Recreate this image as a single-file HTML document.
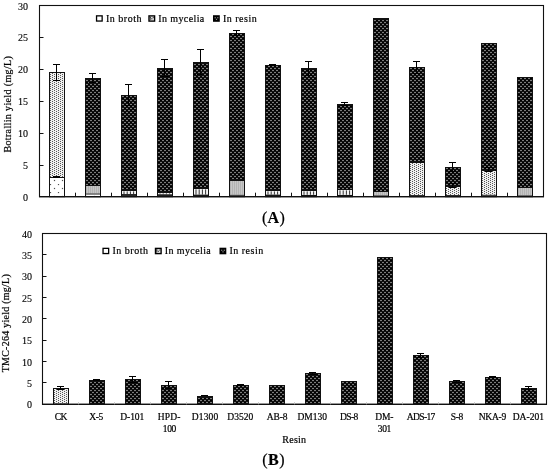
<!DOCTYPE html>
<html lang="en"><head><meta charset="utf-8"><title>Botrallin and TMC-264 yield</title>
<style>
html,body{margin:0;padding:0;background:#fff;}
body{width:550px;height:471px;overflow:hidden;}
svg{display:block;}
text{font-family:'Liberation Serif', serif;fill:#000;stroke:#000;stroke-width:0.2px;}
.tk{font-size:10px;stroke-width:0.12px;}
.lg{font-size:10px;letter-spacing:0.5px;}
.ax{font-size:10px;letter-spacing:0.25px;}
.cat{font-size:9.5px;}
.pl{font-size:16px;letter-spacing:0.4px;}
</style></head><body>
<svg width="550" height="471" viewBox="0 0 550 471">
<defs>
<pattern id="pr" width="4" height="4" patternUnits="userSpaceOnUse" x="0" y="0">
<rect width="4" height="4" fill="#000"/>
<rect x="2" y="-1" width="2" height="3" fill="#101010"/>
<rect x="2" y="3" width="2" height="1" fill="#101010"/>
<rect x="0" y="1" width="2" height="3" fill="#101010"/>
<rect x="2" y="0" width="2" height="1" fill="#7c7c7c"/>
<rect x="0" y="2" width="2" height="1" fill="#7c7c7c"/>
</pattern>
<pattern id="pr2" width="4" height="4" patternUnits="userSpaceOnUse" x="0" y="2">
<rect width="4" height="4" fill="#000"/>
<rect x="2" y="-1" width="2" height="3" fill="#101010"/>
<rect x="2" y="3" width="2" height="1" fill="#101010"/>
<rect x="0" y="1" width="2" height="3" fill="#101010"/>
<rect x="2" y="0" width="2" height="1" fill="#7c7c7c"/>
<rect x="0" y="2" width="2" height="1" fill="#7c7c7c"/>
</pattern>
<pattern id="pm" width="4" height="2" patternUnits="userSpaceOnUse">
<rect width="4" height="2" fill="#f0f0f0"/>
<rect x="0" y="1" width="1" height="1" fill="#585858"/>
<rect x="2" y="0" width="1" height="1" fill="#585858"/>
</pattern>
<pattern id="pm2" width="4" height="2" patternUnits="userSpaceOnUse">
<rect width="4" height="2" fill="#c6c6c6"/>
<rect x="0" y="0" width="1" height="2" fill="#b2b2b2"/>
<rect x="2" y="0" width="1" height="2" fill="#b2b2b2"/>
</pattern>
<pattern id="pb" width="8" height="8" patternUnits="userSpaceOnUse">
<rect width="8" height="8" fill="#fff"/>
<rect x="1.9" y="-0.1" width="1.2" height="1.2" fill="#505050"/>
<rect x="5.9" y="3.9" width="1.2" height="1.2" fill="#505050"/>
</pattern>
</defs>
<rect width="550" height="471" fill="#fff"/>

<rect x="49.00" y="72.00" width="16.00" height="105.00" fill="url(#pm)"/>
<rect x="49.00" y="177.00" width="16.00" height="19.70" fill="url(#pb)"/>
<rect x="49.50" y="72.50" width="15.00" height="124.20" fill="none" stroke="#111" stroke-width="1"/>
<line x1="49.00" x2="65.00" y1="177.50" y2="177.50" stroke="#111" stroke-width="1"/>
<path d="M56.50 64.50V80.50M53.00 64.50H60.00M53.00 80.50H60.00" stroke="#000" stroke-width="1" fill="none"/>
<path d="M56.50 176.50V177.50M53.00 176.50H60.00M53.00 177.50H60.00" stroke="#000" stroke-width="1" fill="none"/>
<rect x="85.00" y="78.00" width="16.00" height="107.00" fill="url(#pr)"/>
<rect x="85.00" y="185.00" width="16.00" height="8.51" fill="url(#pm2)"/>
<rect x="85.00" y="193.51" width="16.00" height="3.19" fill="url(#pb)"/>
<rect x="85.50" y="78.50" width="15.00" height="118.20" fill="none" stroke="#111" stroke-width="1"/>
<line x1="85.00" x2="101.00" y1="185.50" y2="185.50" stroke="#111" stroke-width="1"/>
<line x1="85.00" x2="101.00" y1="194.01" y2="194.01" stroke="#111" stroke-width="1"/>
<path d="M92.50 73.50V82.50M89.00 73.50H96.00M89.00 82.50H96.00" stroke="#000" stroke-width="1" fill="none"/>
<rect x="121.00" y="95.00" width="16.00" height="95.00" fill="url(#pr)"/>
<rect x="121.00" y="190.00" width="16.00" height="4.28" fill="#f4f4f4"/>
<line x1="124.00" x2="124.00" y1="191.40" y2="194.08" stroke="#333" stroke-width="1"/>
<line x1="127.20" x2="127.20" y1="191.40" y2="194.08" stroke="#333" stroke-width="1"/>
<line x1="130.40" x2="130.40" y1="191.40" y2="194.08" stroke="#333" stroke-width="1"/>
<line x1="133.60" x2="133.60" y1="191.40" y2="194.08" stroke="#333" stroke-width="1"/>
<rect x="121.00" y="194.28" width="16.00" height="2.42" fill="#333"/>
<rect x="121.50" y="95.50" width="15.00" height="101.20" fill="none" stroke="#111" stroke-width="1"/>
<line x1="121.00" x2="137.00" y1="190.50" y2="190.50" stroke="#111" stroke-width="1"/>
<line x1="121.00" x2="137.00" y1="194.78" y2="194.78" stroke="#111" stroke-width="1"/>
<path d="M128.50 84.50V105.50M125.00 84.50H132.00M125.00 105.50H132.00" stroke="#000" stroke-width="1" fill="none"/>
<rect x="157.00" y="68.00" width="16.00" height="124.00" fill="url(#pr)"/>
<rect x="157.00" y="192.00" width="16.00" height="2.53" fill="#f4f4f4"/>
<line x1="160.00" x2="160.00" y1="193.40" y2="194.33" stroke="#333" stroke-width="1"/>
<line x1="163.20" x2="163.20" y1="193.40" y2="194.33" stroke="#333" stroke-width="1"/>
<line x1="166.40" x2="166.40" y1="193.40" y2="194.33" stroke="#333" stroke-width="1"/>
<line x1="169.60" x2="169.60" y1="193.40" y2="194.33" stroke="#333" stroke-width="1"/>
<rect x="157.00" y="194.53" width="16.00" height="2.17" fill="#333"/>
<rect x="157.50" y="68.50" width="15.00" height="128.20" fill="none" stroke="#111" stroke-width="1"/>
<line x1="157.00" x2="173.00" y1="192.50" y2="192.50" stroke="#111" stroke-width="1"/>
<line x1="157.00" x2="173.00" y1="195.03" y2="195.03" stroke="#111" stroke-width="1"/>
<path d="M164.50 59.50V76.50M161.00 59.50H168.00M161.00 76.50H168.00" stroke="#000" stroke-width="1" fill="none"/>
<rect x="193.00" y="62.00" width="16.00" height="126.00" fill="url(#pr)"/>
<rect x="193.00" y="188.00" width="16.00" height="6.79" fill="#f4f4f4"/>
<line x1="196.00" x2="196.00" y1="189.40" y2="194.59" stroke="#333" stroke-width="1"/>
<line x1="199.20" x2="199.20" y1="189.40" y2="194.59" stroke="#333" stroke-width="1"/>
<line x1="202.40" x2="202.40" y1="189.40" y2="194.59" stroke="#333" stroke-width="1"/>
<line x1="205.60" x2="205.60" y1="189.40" y2="194.59" stroke="#333" stroke-width="1"/>
<rect x="193.00" y="194.79" width="16.00" height="1.91" fill="#333"/>
<rect x="193.50" y="62.50" width="15.00" height="134.20" fill="none" stroke="#111" stroke-width="1"/>
<line x1="193.00" x2="209.00" y1="188.50" y2="188.50" stroke="#111" stroke-width="1"/>
<line x1="193.00" x2="209.00" y1="195.29" y2="195.29" stroke="#111" stroke-width="1"/>
<path d="M200.50 49.50V74.50M197.00 49.50H204.00M197.00 74.50H204.00" stroke="#000" stroke-width="1" fill="none"/>
<rect x="229.00" y="33.00" width="16.00" height="147.00" fill="url(#pr)"/>
<rect x="229.00" y="180.00" width="16.00" height="14.79" fill="url(#pm2)"/>
<rect x="229.00" y="194.79" width="16.00" height="1.91" fill="url(#pb)"/>
<rect x="229.50" y="33.50" width="15.00" height="163.20" fill="none" stroke="#111" stroke-width="1"/>
<line x1="229.00" x2="245.00" y1="180.50" y2="180.50" stroke="#111" stroke-width="1"/>
<line x1="229.00" x2="245.00" y1="195.29" y2="195.29" stroke="#111" stroke-width="1"/>
<path d="M236.50 30.50V35.50M233.00 30.50H240.00M233.00 35.50H240.00" stroke="#000" stroke-width="1" fill="none"/>
<rect x="265.00" y="65.00" width="16.00" height="125.00" fill="url(#pr)"/>
<rect x="265.00" y="190.00" width="16.00" height="4.79" fill="#f4f4f4"/>
<line x1="268.00" x2="268.00" y1="191.40" y2="194.59" stroke="#333" stroke-width="1"/>
<line x1="271.20" x2="271.20" y1="191.40" y2="194.59" stroke="#333" stroke-width="1"/>
<line x1="274.40" x2="274.40" y1="191.40" y2="194.59" stroke="#333" stroke-width="1"/>
<line x1="277.60" x2="277.60" y1="191.40" y2="194.59" stroke="#333" stroke-width="1"/>
<rect x="265.00" y="194.79" width="16.00" height="1.91" fill="#333"/>
<rect x="265.50" y="65.50" width="15.00" height="131.20" fill="none" stroke="#111" stroke-width="1"/>
<line x1="265.00" x2="281.00" y1="190.50" y2="190.50" stroke="#111" stroke-width="1"/>
<line x1="265.00" x2="281.00" y1="195.29" y2="195.29" stroke="#111" stroke-width="1"/>
<path d="M272.50 64.50V65.50M269.00 64.50H276.00M269.00 65.50H276.00" stroke="#000" stroke-width="1" fill="none"/>
<rect x="301.00" y="68.00" width="16.00" height="122.00" fill="url(#pr)"/>
<rect x="301.00" y="190.00" width="16.00" height="4.98" fill="#f4f4f4"/>
<line x1="304.00" x2="304.00" y1="191.40" y2="194.78" stroke="#333" stroke-width="1"/>
<line x1="307.20" x2="307.20" y1="191.40" y2="194.78" stroke="#333" stroke-width="1"/>
<line x1="310.40" x2="310.40" y1="191.40" y2="194.78" stroke="#333" stroke-width="1"/>
<line x1="313.60" x2="313.60" y1="191.40" y2="194.78" stroke="#333" stroke-width="1"/>
<rect x="301.00" y="194.98" width="16.00" height="1.72" fill="#333"/>
<rect x="301.50" y="68.50" width="15.00" height="128.20" fill="none" stroke="#111" stroke-width="1"/>
<line x1="301.00" x2="317.00" y1="190.50" y2="190.50" stroke="#111" stroke-width="1"/>
<line x1="301.00" x2="317.00" y1="195.48" y2="195.48" stroke="#111" stroke-width="1"/>
<path d="M308.50 61.50V75.50M305.00 61.50H312.00M305.00 75.50H312.00" stroke="#000" stroke-width="1" fill="none"/>
<rect x="337.00" y="104.00" width="16.00" height="85.00" fill="url(#pr)"/>
<rect x="337.00" y="189.00" width="16.00" height="5.98" fill="#f4f4f4"/>
<line x1="340.00" x2="340.00" y1="190.40" y2="194.78" stroke="#333" stroke-width="1"/>
<line x1="343.20" x2="343.20" y1="190.40" y2="194.78" stroke="#333" stroke-width="1"/>
<line x1="346.40" x2="346.40" y1="190.40" y2="194.78" stroke="#333" stroke-width="1"/>
<line x1="349.60" x2="349.60" y1="190.40" y2="194.78" stroke="#333" stroke-width="1"/>
<rect x="337.00" y="194.98" width="16.00" height="1.72" fill="#333"/>
<rect x="337.50" y="104.50" width="15.00" height="92.20" fill="none" stroke="#111" stroke-width="1"/>
<line x1="337.00" x2="353.00" y1="189.50" y2="189.50" stroke="#111" stroke-width="1"/>
<line x1="337.00" x2="353.00" y1="195.48" y2="195.48" stroke="#111" stroke-width="1"/>
<path d="M344.50 102.50V105.50M341.00 102.50H348.00M341.00 105.50H348.00" stroke="#000" stroke-width="1" fill="none"/>
<rect x="373.00" y="18.00" width="16.00" height="173.00" fill="url(#pr)"/>
<rect x="373.00" y="191.00" width="16.00" height="4.43" fill="url(#pm2)"/>
<rect x="373.00" y="195.43" width="16.00" height="1.27" fill="url(#pb)"/>
<rect x="373.50" y="18.50" width="15.00" height="178.20" fill="none" stroke="#111" stroke-width="1"/>
<line x1="373.00" x2="389.00" y1="191.50" y2="191.50" stroke="#111" stroke-width="1"/>
<line x1="373.00" x2="389.00" y1="195.93" y2="195.93" stroke="#111" stroke-width="1"/>
<rect x="409.00" y="67.00" width="16.00" height="95.00" fill="url(#pr)"/>
<rect x="409.00" y="162.00" width="16.00" height="33.11" fill="url(#pm)"/>
<rect x="409.00" y="195.11" width="16.00" height="1.59" fill="url(#pb)"/>
<rect x="409.50" y="67.50" width="15.00" height="129.20" fill="none" stroke="#111" stroke-width="1"/>
<line x1="409.00" x2="425.00" y1="162.50" y2="162.50" stroke="#111" stroke-width="1"/>
<line x1="409.00" x2="425.00" y1="195.61" y2="195.61" stroke="#111" stroke-width="1"/>
<path d="M416.50 61.50V73.50M413.00 61.50H420.00M413.00 73.50H420.00" stroke="#000" stroke-width="1" fill="none"/>
<rect x="445.00" y="167.00" width="16.00" height="19.00" fill="url(#pr)"/>
<rect x="445.00" y="186.00" width="16.00" height="9.11" fill="url(#pm)"/>
<rect x="445.00" y="195.11" width="16.00" height="1.59" fill="url(#pb)"/>
<rect x="445.50" y="167.50" width="15.00" height="29.20" fill="none" stroke="#111" stroke-width="1"/>
<line x1="445.00" x2="461.00" y1="186.50" y2="186.50" stroke="#111" stroke-width="1"/>
<line x1="445.00" x2="461.00" y1="195.61" y2="195.61" stroke="#111" stroke-width="1"/>
<path d="M452.50 162.50V171.50M449.00 162.50H456.00M449.00 171.50H456.00" stroke="#000" stroke-width="1" fill="none"/>
<path d="M452.50 183.50V187.50M449.00 183.50H456.00M449.00 187.50H456.00" stroke="#000" stroke-width="1" fill="none"/>
<rect x="481.00" y="43.00" width="16.00" height="127.00" fill="url(#pr)"/>
<rect x="481.00" y="170.00" width="16.00" height="24.79" fill="url(#pm)"/>
<rect x="481.00" y="194.79" width="16.00" height="1.91" fill="url(#pb)"/>
<rect x="481.50" y="43.50" width="15.00" height="153.20" fill="none" stroke="#111" stroke-width="1"/>
<line x1="481.00" x2="497.00" y1="170.50" y2="170.50" stroke="#111" stroke-width="1"/>
<line x1="481.00" x2="497.00" y1="195.29" y2="195.29" stroke="#111" stroke-width="1"/>
<path d="M488.50 167.50V171.50M485.00 167.50H492.00M485.00 171.50H492.00" stroke="#000" stroke-width="1" fill="none"/>
<rect x="517.00" y="77.00" width="16.00" height="110.00" fill="url(#pr)"/>
<rect x="517.00" y="187.00" width="16.00" height="8.43" fill="url(#pm2)"/>
<rect x="517.00" y="195.43" width="16.00" height="1.27" fill="url(#pb)"/>
<rect x="517.50" y="77.50" width="15.00" height="119.20" fill="none" stroke="#111" stroke-width="1"/>
<line x1="517.00" x2="533.00" y1="187.50" y2="187.50" stroke="#111" stroke-width="1"/>
<line x1="517.00" x2="533.00" y1="195.93" y2="195.93" stroke="#111" stroke-width="1"/>
<rect x="39.50" y="5.50" width="504.00" height="191.20" fill="none" stroke="#111" stroke-width="1.1"/>
<line x1="39.00" x2="544.00" y1="196.70" y2="196.70" stroke="#111" stroke-width="1.3"/>
<text class="tk" x="27.90" y="200.70" text-anchor="end">0</text>
<line x1="39.50" x2="43.50" y1="165.50" y2="165.50" stroke="#111" stroke-width="1"/>
<text class="tk" x="27.90" y="168.83" text-anchor="end">5</text>
<line x1="39.50" x2="43.50" y1="133.50" y2="133.50" stroke="#111" stroke-width="1"/>
<text class="tk" x="27.90" y="136.97" text-anchor="end">10</text>
<line x1="39.50" x2="43.50" y1="101.50" y2="101.50" stroke="#111" stroke-width="1"/>
<text class="tk" x="27.90" y="105.10" text-anchor="end">15</text>
<line x1="39.50" x2="43.50" y1="69.50" y2="69.50" stroke="#111" stroke-width="1"/>
<text class="tk" x="27.90" y="73.23" text-anchor="end">20</text>
<line x1="39.50" x2="43.50" y1="37.50" y2="37.50" stroke="#111" stroke-width="1"/>
<text class="tk" x="27.90" y="41.37" text-anchor="end">25</text>
<text class="tk" x="27.90" y="9.50" text-anchor="end">30</text>
<line x1="75.50" x2="75.50" y1="192.70" y2="196.70" stroke="#111" stroke-width="1"/>
<line x1="111.50" x2="111.50" y1="192.70" y2="196.70" stroke="#111" stroke-width="1"/>
<line x1="147.50" x2="147.50" y1="192.70" y2="196.70" stroke="#111" stroke-width="1"/>
<line x1="183.50" x2="183.50" y1="192.70" y2="196.70" stroke="#111" stroke-width="1"/>
<line x1="219.50" x2="219.50" y1="192.70" y2="196.70" stroke="#111" stroke-width="1"/>
<line x1="255.50" x2="255.50" y1="192.70" y2="196.70" stroke="#111" stroke-width="1"/>
<line x1="291.50" x2="291.50" y1="192.70" y2="196.70" stroke="#111" stroke-width="1"/>
<line x1="327.50" x2="327.50" y1="192.70" y2="196.70" stroke="#111" stroke-width="1"/>
<line x1="363.50" x2="363.50" y1="192.70" y2="196.70" stroke="#111" stroke-width="1"/>
<line x1="399.50" x2="399.50" y1="192.70" y2="196.70" stroke="#111" stroke-width="1"/>
<line x1="435.50" x2="435.50" y1="192.70" y2="196.70" stroke="#111" stroke-width="1"/>
<line x1="471.50" x2="471.50" y1="192.70" y2="196.70" stroke="#111" stroke-width="1"/>
<line x1="507.50" x2="507.50" y1="192.70" y2="196.70" stroke="#111" stroke-width="1"/>
<rect x="53.00" y="388.00" width="16.00" height="15.66" fill="url(#pm)"/>
<rect x="53.00" y="403.66" width="16.00" height="0.64" fill="url(#pb)"/>
<rect x="53.50" y="388.50" width="15.00" height="15.80" fill="none" stroke="#111" stroke-width="1"/>
<line x1="53.00" x2="69.00" y1="404.16" y2="404.16" stroke="#111" stroke-width="1"/>
<path d="M60.50 386.50V389.50M57.00 386.50H64.00M57.00 389.50H64.00" stroke="#000" stroke-width="1" fill="none"/>
<rect x="89.00" y="380.00" width="16.00" height="24.00" fill="url(#pr2)"/>
<rect x="89.50" y="380.50" width="15.00" height="23.80" fill="none" stroke="#111" stroke-width="1"/>
<path d="M96.50 379.50V380.50M93.00 379.50H100.00M93.00 380.50H100.00" stroke="#000" stroke-width="1" fill="none"/>
<rect x="125.00" y="379.00" width="16.00" height="25.00" fill="url(#pr2)"/>
<rect x="125.50" y="379.50" width="15.00" height="24.80" fill="none" stroke="#111" stroke-width="1"/>
<path d="M132.50 376.50V382.50M129.00 376.50H136.00M129.00 382.50H136.00" stroke="#000" stroke-width="1" fill="none"/>
<rect x="161.00" y="385.00" width="16.00" height="19.00" fill="url(#pr2)"/>
<rect x="161.50" y="385.50" width="15.00" height="18.80" fill="none" stroke="#111" stroke-width="1"/>
<path d="M168.50 381.50V388.50M165.00 381.50H172.00M165.00 388.50H172.00" stroke="#000" stroke-width="1" fill="none"/>
<rect x="197.00" y="396.00" width="16.00" height="8.00" fill="url(#pr2)"/>
<rect x="197.50" y="396.50" width="15.00" height="7.80" fill="none" stroke="#111" stroke-width="1"/>
<path d="M204.50 395.50V395.50M201.00 395.50H208.00M201.00 395.50H208.00" stroke="#000" stroke-width="1" fill="none"/>
<rect x="233.00" y="385.00" width="16.00" height="19.00" fill="url(#pr2)"/>
<rect x="233.50" y="385.50" width="15.00" height="18.80" fill="none" stroke="#111" stroke-width="1"/>
<path d="M240.50 384.50V385.50M237.00 384.50H244.00M237.00 385.50H244.00" stroke="#000" stroke-width="1" fill="none"/>
<rect x="269.00" y="385.00" width="16.00" height="19.00" fill="url(#pr2)"/>
<rect x="269.50" y="385.50" width="15.00" height="18.80" fill="none" stroke="#111" stroke-width="1"/>
<rect x="305.00" y="373.00" width="16.00" height="31.00" fill="url(#pr2)"/>
<rect x="305.50" y="373.50" width="15.00" height="30.80" fill="none" stroke="#111" stroke-width="1"/>
<path d="M312.50 372.50V374.50M309.00 372.50H316.00M309.00 374.50H316.00" stroke="#000" stroke-width="1" fill="none"/>
<rect x="341.00" y="381.00" width="16.00" height="23.00" fill="url(#pr2)"/>
<rect x="341.50" y="381.50" width="15.00" height="22.80" fill="none" stroke="#111" stroke-width="1"/>
<rect x="377.00" y="257.00" width="16.00" height="147.00" fill="url(#pr2)"/>
<rect x="377.50" y="257.50" width="15.00" height="146.80" fill="none" stroke="#111" stroke-width="1"/>
<rect x="413.00" y="355.00" width="16.00" height="49.00" fill="url(#pr2)"/>
<rect x="413.50" y="355.50" width="15.00" height="48.80" fill="none" stroke="#111" stroke-width="1"/>
<path d="M420.50 353.50V357.50M417.00 353.50H424.00M417.00 357.50H424.00" stroke="#000" stroke-width="1" fill="none"/>
<rect x="449.00" y="381.00" width="16.00" height="23.00" fill="url(#pr2)"/>
<rect x="449.50" y="381.50" width="15.00" height="22.80" fill="none" stroke="#111" stroke-width="1"/>
<path d="M456.50 380.50V382.50M453.00 380.50H460.00M453.00 382.50H460.00" stroke="#000" stroke-width="1" fill="none"/>
<rect x="485.00" y="377.00" width="16.00" height="27.00" fill="url(#pr2)"/>
<rect x="485.50" y="377.50" width="15.00" height="26.80" fill="none" stroke="#111" stroke-width="1"/>
<path d="M492.50 376.50V377.50M489.00 376.50H496.00M489.00 377.50H496.00" stroke="#000" stroke-width="1" fill="none"/>
<rect x="521.00" y="388.00" width="16.00" height="16.00" fill="url(#pr2)"/>
<rect x="521.50" y="388.50" width="15.00" height="15.80" fill="none" stroke="#111" stroke-width="1"/>
<path d="M528.50 386.50V389.50M525.00 386.50H532.00M525.00 389.50H532.00" stroke="#000" stroke-width="1" fill="none"/>
<rect x="42.50" y="233.50" width="504.00" height="170.80" fill="none" stroke="#111" stroke-width="1.1"/>
<line x1="42.00" x2="547.00" y1="404.30" y2="404.30" stroke="#111" stroke-width="1.3"/>
<text class="tk" x="32.00" y="408.30" text-anchor="end">0</text>
<line x1="42.50" x2="46.50" y1="382.50" y2="382.50" stroke="#111" stroke-width="1"/>
<text class="tk" x="32.00" y="386.95" text-anchor="end">5</text>
<line x1="42.50" x2="46.50" y1="361.50" y2="361.50" stroke="#111" stroke-width="1"/>
<text class="tk" x="32.00" y="365.60" text-anchor="end">10</text>
<line x1="42.50" x2="46.50" y1="340.50" y2="340.50" stroke="#111" stroke-width="1"/>
<text class="tk" x="32.00" y="344.25" text-anchor="end">15</text>
<line x1="42.50" x2="46.50" y1="318.50" y2="318.50" stroke="#111" stroke-width="1"/>
<text class="tk" x="32.00" y="322.90" text-anchor="end">20</text>
<line x1="42.50" x2="46.50" y1="297.50" y2="297.50" stroke="#111" stroke-width="1"/>
<text class="tk" x="32.00" y="301.55" text-anchor="end">25</text>
<line x1="42.50" x2="46.50" y1="276.50" y2="276.50" stroke="#111" stroke-width="1"/>
<text class="tk" x="32.00" y="280.20" text-anchor="end">30</text>
<line x1="42.50" x2="46.50" y1="254.50" y2="254.50" stroke="#111" stroke-width="1"/>
<text class="tk" x="32.00" y="258.85" text-anchor="end">35</text>
<text class="tk" x="32.00" y="237.50" text-anchor="end">40</text>
<line x1="78.50" x2="78.50" y1="402.30" y2="404.30" stroke="#bbb" stroke-width="1"/>
<line x1="114.50" x2="114.50" y1="402.30" y2="404.30" stroke="#bbb" stroke-width="1"/>
<line x1="150.50" x2="150.50" y1="402.30" y2="404.30" stroke="#bbb" stroke-width="1"/>
<line x1="186.50" x2="186.50" y1="402.30" y2="404.30" stroke="#bbb" stroke-width="1"/>
<line x1="222.50" x2="222.50" y1="402.30" y2="404.30" stroke="#bbb" stroke-width="1"/>
<line x1="258.50" x2="258.50" y1="402.30" y2="404.30" stroke="#bbb" stroke-width="1"/>
<line x1="294.50" x2="294.50" y1="402.30" y2="404.30" stroke="#bbb" stroke-width="1"/>
<line x1="330.50" x2="330.50" y1="402.30" y2="404.30" stroke="#bbb" stroke-width="1"/>
<line x1="366.50" x2="366.50" y1="402.30" y2="404.30" stroke="#bbb" stroke-width="1"/>
<line x1="402.50" x2="402.50" y1="402.30" y2="404.30" stroke="#bbb" stroke-width="1"/>
<line x1="438.50" x2="438.50" y1="402.30" y2="404.30" stroke="#bbb" stroke-width="1"/>
<line x1="474.50" x2="474.50" y1="402.30" y2="404.30" stroke="#bbb" stroke-width="1"/>
<line x1="510.50" x2="510.50" y1="402.30" y2="404.30" stroke="#bbb" stroke-width="1"/>
<rect x="96.55" y="15.85" width="5.6" height="5.2" fill="#fff" stroke="#000" stroke-width="1.3"/>
<text class="lg" x="106.00" y="21.80">In broth</text>
<rect x="149.00" y="15.90" width="5.6" height="5.2" fill="#fff" stroke="#000" stroke-width="1.4"/>
<path d="M149.70 17.60h1.2M152.70 17.60h1.2M151.10 18.80h1.4M150.20 16.60v3.6" stroke="#333" stroke-width="0.9" fill="none"/>
<rect x="149.70" y="16.60" width="4.2" height="3.8" fill="#000" opacity="0.12"/>
<text class="lg" x="158.20" y="21.80" style="letter-spacing:0.4px">In mycelia</text>
<rect x="213.00" y="15.20" width="6.8" height="6.6" fill="#000"/>
<rect x="214.60" y="17.20" width="1.2" height="1.1" fill="#999"/>
<rect x="217.20" y="17.20" width="1.2" height="1.1" fill="#999"/>
<rect x="215.90" y="18.80" width="1.2" height="1.1" fill="#999"/>
<text class="lg" x="222.90" y="21.80">In resin</text>
<rect x="103.05" y="248.35" width="5.6" height="5.2" fill="#fff" stroke="#000" stroke-width="1.3"/>
<text class="lg" x="112.50" y="254.30">In broth</text>
<rect x="155.50" y="248.40" width="5.6" height="5.2" fill="#fff" stroke="#000" stroke-width="1.4"/>
<path d="M156.20 250.10h1.2M159.20 250.10h1.2M157.60 251.30h1.4M156.70 249.10v3.6" stroke="#333" stroke-width="0.9" fill="none"/>
<rect x="156.20" y="249.10" width="4.2" height="3.8" fill="#000" opacity="0.12"/>
<text class="lg" x="164.70" y="254.30" style="letter-spacing:0.4px">In mycelia</text>
<rect x="219.50" y="247.70" width="6.8" height="6.6" fill="#000"/>
<rect x="221.10" y="249.70" width="1.2" height="1.1" fill="#999"/>
<rect x="223.70" y="249.70" width="1.2" height="1.1" fill="#999"/>
<rect x="222.40" y="251.30" width="1.2" height="1.1" fill="#999"/>
<text class="lg" x="229.40" y="254.30">In resin</text>
<text class="ax" style="letter-spacing:0.36px" transform="translate(10.5 152.6) rotate(-90)">Botrallin yield (mg/L)</text>
<text class="ax" transform="translate(8.8 372.3) rotate(-90)">TMC-264 yield (mg/L)</text>
<text class="pl" x="273.6" y="223" text-anchor="middle">(<tspan font-weight="bold">A</tspan>)</text>
<text class="pl" x="273.6" y="465" text-anchor="middle">(<tspan font-weight="bold">B</tspan>)</text>
<text class="cat" x="54.80" y="419.80" textLength="12.50" lengthAdjust="spacing">CK</text>
<text class="cat" x="89.30" y="419.80" textLength="14.00" lengthAdjust="spacing">X-5</text>
<text class="cat" x="120.30" y="419.80" textLength="24.00" lengthAdjust="spacing">D-101</text>
<text class="cat" x="157.70" y="419.80" textLength="22.60" lengthAdjust="spacing">HPD-</text>
<text class="cat" x="162.70" y="432.20" textLength="13.60" lengthAdjust="spacing">100</text>
<text class="cat" x="191.70" y="419.80" textLength="26.60" lengthAdjust="spacing">D1300</text>
<text class="cat" x="227.30" y="419.80" textLength="26.00" lengthAdjust="spacing">D3520</text>
<text class="cat" x="266.70" y="419.80" textLength="20.80" lengthAdjust="spacing">AB-8</text>
<text class="cat" x="297.40" y="419.80" textLength="29.50" lengthAdjust="spacing">DM130</text>
<text class="cat" x="340.10" y="419.80" textLength="18.20" lengthAdjust="spacing">DS-8</text>
<text class="cat" x="375.30" y="419.80" textLength="18.00" lengthAdjust="spacing">DM-</text>
<text class="cat" x="377.70" y="432.20" textLength="13.60" lengthAdjust="spacing">301</text>
<text class="cat" x="406.70" y="419.80" textLength="28.60" lengthAdjust="spacing">ADS-17</text>
<text class="cat" x="450.70" y="419.80" textLength="12.60" lengthAdjust="spacing">S-8</text>
<text class="cat" x="478.70" y="419.80" textLength="27.60" lengthAdjust="spacing">NKA-9</text>
<text class="cat" x="512.70" y="419.80" textLength="31.20" lengthAdjust="spacing">DA-201</text>
<text class="ax" x="294.3" y="442.7" text-anchor="middle">Resin</text>
</svg></body></html>
